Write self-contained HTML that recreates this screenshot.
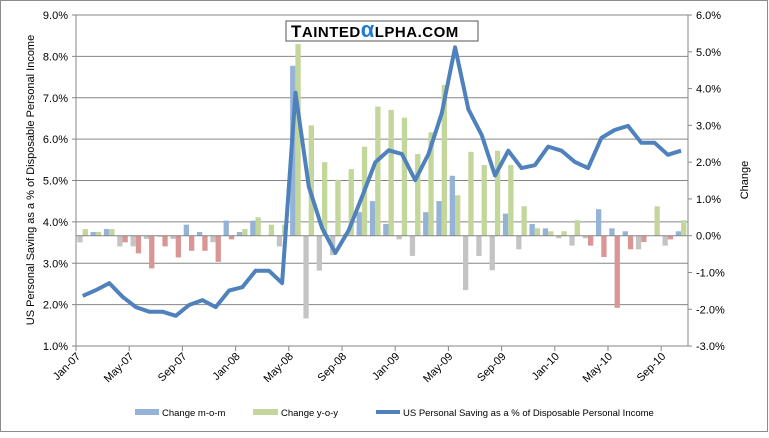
<!DOCTYPE html>
<html><head><meta charset="utf-8"><style>
body{margin:0;background:#fff;}
svg text{font-family:"Liberation Sans",sans-serif;fill:#000;}
</style></head><body>
<svg id="c" width="769" height="433" xmlns="http://www.w3.org/2000/svg"></svg>
<script>
const s=document.getElementById('c');let h='';
h+='<rect x="0.5" y="0.5" width="767" height="431" fill="#fff" stroke="#8c8c8c"/>';
const X0=76,X1=688,T=15,B=346,W=13.3;
const yl=v=>B-(v-1)*41.375, yr=v=>235.7-v*36.78;
for(let v=1;v<=9;v++){const y=yl(v);
 if(v>1&&v<9)h+=`<line x1="${X0}" x2="${X1}" y1="${y}" y2="${y}" stroke="#868686"/>`;
 h+=`<text x="${X0-8}" y="${y+4}" font-size="11" text-anchor="end">${v.toFixed(1)}%</text>`;
 h+=`<line x1="${X0-4}" x2="${X0}" y1="${y}" y2="${y}" stroke="#868686"/>`;}
for(let v=-3;v<=6;v++){const y=yr(v);
 h+=`<text x="${X1+8}" y="${y+4}" font-size="11">${v.toFixed(1)}%</text>`;
 h+=`<line x1="${X1}" x2="${X1+4}" y1="${y}" y2="${y}" stroke="#868686"/>`;}
h+=`<line x1="${X0}" x2="${X1}" y1="${T}" y2="${T}" stroke="#868686"/>`;
const mom=[-.18,.1,.18,-.29,-.29,-.09,-.03,-.09,.3,.1,-.18,.41,.1,.41,0,-.29,4.62,-2.25,-.95,-.53,0.05,.64,.94,.32,-.1,-.55,.64,.94,1.63,-1.48,-.55,-.94,.6,-.37,.32,.2,-.07,-.27,-.07,.72,.2,.12,-.37,0,-.27,.12];
const yoy=[.18,.1,.18,-.18,-.48,-.89,-.29,-.59,-.41,-.41,-.71,-.1,.18,.5,.3,.3,5.21,3.0,2.0,1.52,1.81,2.42,3.51,3.42,3.21,2.22,2.81,4.1,1.1,2.28,1.92,2.31,1.92,.8,.2,.12,.12,.42,-.27,-.58,-1.96,-.37,-.17,.8,-.1,.42];
const line=[2.21,2.35,2.52,2.19,1.94,1.83,1.83,1.73,1.99,2.11,1.94,2.34,2.42,2.82,2.82,2.52,7.12,4.85,3.85,3.25,3.8,4.6,5.44,5.73,5.64,5.01,5.64,6.63,8.22,6.72,6.1,5.12,5.72,5.3,5.37,5.82,5.72,5.45,5.3,6.03,6.22,6.32,5.91,5.91,5.62,5.72];
const z=yr(0);
for(let i=0;i<46;i++){const x=X0+W*i;
 const bar=(v,bx,pc,nc)=>{if(Math.abs(v)<0.001)return;const y=yr(v);
  h+=`<rect x="${bx}" y="${Math.min(y,z)}" width="5.3" height="${Math.abs(y-z)}" fill="${v>0?pc:nc}"/>`;};
 bar(mom[i],x+1.3,'#95b3d7','#c4c4c4');bar(yoy[i],x+6.6,'#c3d69b','#d99694');}
h+=`<line x1="${X0}" x2="${X1}" y1="${z}" y2="${z}" stroke="#868686"/>`;
h+=`<polyline fill="none" stroke="#4f81bd" stroke-width="4" stroke-linejoin="round" points="${line.map((v,i)=>(X0+W*(i+.5)).toFixed(1)+','+yl(v).toFixed(1)).join(' ')}"/>`;
h+=`<line x1="${X0}" x2="${X0}" y1="${T}" y2="${B}" stroke="#868686"/><line x1="${X1}" x2="${X1}" y1="${T}" y2="${B}" stroke="#868686"/>`;
h+=`<line x1="${X0}" x2="${X1}" y1="${B}" y2="${B}" stroke="#868686"/>`;
const labs=['Jan-07','May-07','Sep-07','Jan-08','May-08','Sep-08','Jan-09','May-09','Sep-09','Jan-10','May-10','Sep-10'];
labs.forEach((l,k)=>{const x=X0+W*4*k;h+=`<line x1="${x}" x2="${x}" y1="${B}" y2="${B+5}" stroke="#868686"/>`;
 h+=`<text x="${x+5}" y="${B+11}" font-size="11" text-anchor="end" transform="rotate(-45 ${x+5} ${B+11})">${l}</text>`;});
h+=`<text font-size="11" text-anchor="middle" transform="translate(34 180) rotate(-90)">US Personal Saving as a % of Disposable Personal Income</text>`;
h+=`<text font-size="11" text-anchor="middle" transform="translate(748 180) rotate(-90)">Change</text>`;
h+=`<rect x="286" y="21" width="192" height="20" fill="#fff" stroke="#555"/>`;
h+=`<text x="291" y="37" font-size="15" font-weight="bold" letter-spacing="0.5"><tspan font-size="17">T</tspan>AINTED<tspan fill="#1e7bd0" font-size="22" font-weight="bold">α</tspan>LPHA.COM</text>`;
h+=`<rect x="135" y="409" width="24" height="6" fill="#95b3d7"/><text x="162" y="416" font-size="9.5">Change m-o-m</text>`;
h+=`<rect x="253" y="409" width="25" height="6" fill="#c3d69b"/><text x="281" y="416" font-size="9.5">Change y-o-y</text>`;
h+=`<line x1="376" x2="400" y1="412" y2="412" stroke="#4f81bd" stroke-width="4"/><text x="403" y="416" font-size="9.5">US Personal Saving as a % of Disposable Personal Income</text>`;
s.innerHTML=h;
</script>
</body></html>
